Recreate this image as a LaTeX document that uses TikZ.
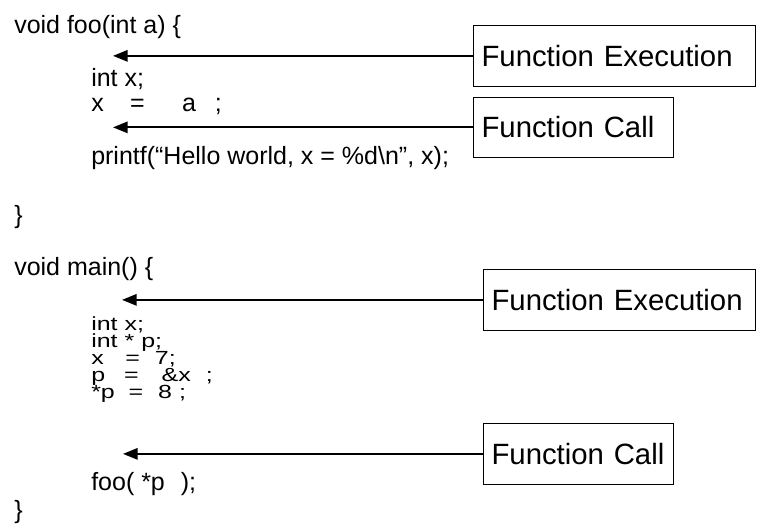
\documentclass[tikz,border=0pt]{standalone}
\usepackage{fontspec}
\setmainfont{Liberation Sans}
\usetikzlibrary{arrows.meta}
\newcommand{\squash}[1]{\scalebox{1}[0.76]{#1}}

\begin{document}
\begin{tikzpicture}[x=0.75pt,y=-0.75pt,
    code/.style={anchor=base west,inner sep=0pt,font=\fontsize{18.75}{18.75}\selectfont},
    lbl/.style={draw,line width=0.8pt,anchor=north west,align=left,inner xsep=6pt,
      minimum height=45.5pt,font=\fontsize{22}{22}\selectfont},
    link/.style={line width=1.5pt,-{Triangle[length=11pt,width=8.5pt]}}]
  \useasboundingbox (0,0) rectangle (757,525);
  % function foo
  \node[code] (fhead) at (14,33) {void foo(int a) \{};
  \node[code] (f1) at (91,86) {int x;};
  \node[code] (f2) at (91,111) {x\hspace{1.05em}=\hspace{1.5em}a\hspace{0.75em};};
  \node[code] (f3) at (91,164) {printf(“Hello world, x = \%d\textbackslash n”, x);};
  \node[code] (fend) at (14,223) {\}};
  \node[lbl,text width=199.5pt] (exec1) at (473,25) {Function Execution};
  \node[lbl,text width=138pt] (call1) at (473,96.5) {Function Call};
  \coordinate (t1) at (113,55);
  \coordinate (t2) at (113,127);
  \draw[link] (exec1.west) -- (t1 |- exec1.west);
  \draw[link] (call1.west) -- (t2 |- call1.west);
  % function main
  \node[code] (mhead) at (14,275) {void main() \{};
  \node[code] (m1) at (91,330) {\squash{int x;}};
  \node[code] (m2) at (91,347) {\squash{int * p;}};
  \node[code] (m3) at (91,364) {\squash{x\hspace{0.86em}=\hspace{0.6em}7;}};
  \node[code] (m4) at (91,381) {\squash{p\hspace{0.76em}=\hspace{0.92em}\&x\hspace{0.6em};}};
  \node[code] (m5) at (91,398) {\squash{*p\hspace{0.55em}=\hspace{0.6em}8 ;}};
  \node[code] (m6) at (91,490) {foo( *p\hspace{0.64em});};
  \node[code] (mend) at (14,518) {\}};
  \node[lbl,text width=192pt] (exec2) at (483,269) {Function Execution};
  \node[lbl,text width=130.5pt] (call2) at (483,423) {Function Call};
  \coordinate (t3) at (122,300);
  \coordinate (t4) at (123,453);
  \draw[link] (exec2.west) -- (t3 |- exec2.west);
  \draw[link] (call2.west) -- (t4 |- call2.west);
\end{tikzpicture}
\end{document}
